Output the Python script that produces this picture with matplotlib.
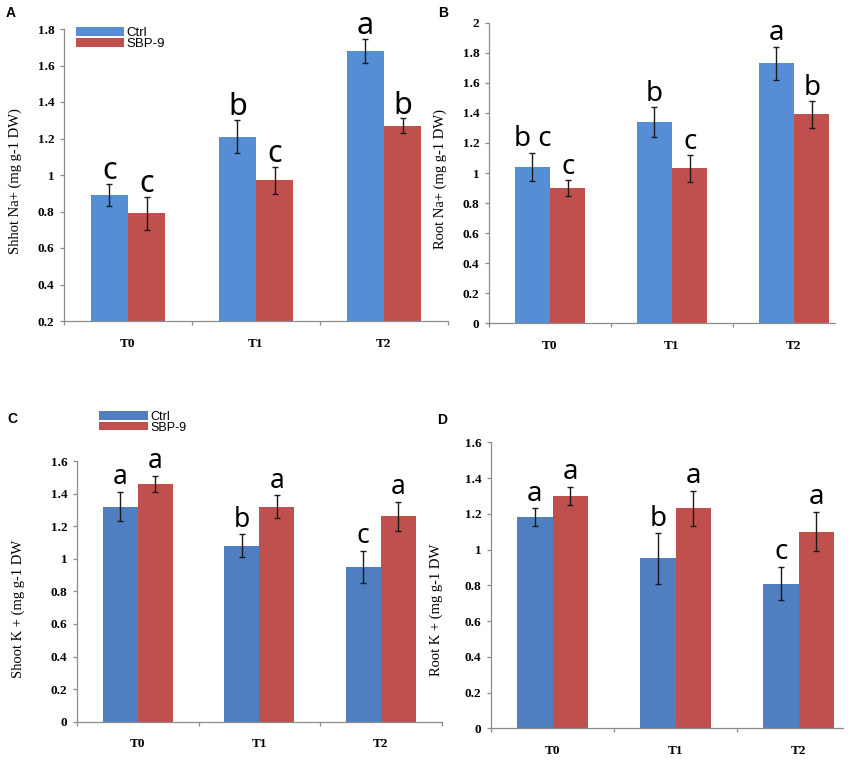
import matplotlib
matplotlib.use("Agg")
import matplotlib.pyplot as plt
from matplotlib.patches import Patch
from matplotlib.ticker import FuncFormatter, FixedLocator

# ---------------- data ----------------
categories = ["T0", "T1", "T2"]
series_names = ["Ctrl", "SBP-9"]

shoot_na_ctrl = [0.89, 1.21, 1.68]
shoot_na_ctrl_err = [0.06, 0.09, 0.065]
shoot_na_sbp = [0.79, 0.97, 1.27]
shoot_na_sbp_err = [0.09, 0.075, 0.04]
shoot_na_letters_ctrl = ["c", "b", "a"]
shoot_na_letters_sbp = ["c", "c", "b"]

root_na_ctrl = [1.04, 1.34, 1.73]
root_na_ctrl_err = [0.095, 0.10, 0.11]
root_na_sbp = [0.90, 1.03, 1.39]
root_na_sbp_err = [0.053, 0.09, 0.09]
root_na_letters_ctrl = ["b c", "b", "a"]
root_na_letters_sbp = ["c", "c", "b"]

shoot_k_ctrl = [1.32, 1.08, 0.95]
shoot_k_ctrl_err = [0.09, 0.07, 0.10]
shoot_k_sbp = [1.46, 1.32, 1.26]
shoot_k_sbp_err = [0.05, 0.07, 0.09]
shoot_k_letters_ctrl = ["a", "b", "c"]
shoot_k_letters_sbp = ["a", "a", "a"]

root_k_ctrl = [1.18, 0.95, 0.81]
root_k_ctrl_err = [0.05, 0.14, 0.095]
root_k_sbp = [1.30, 1.23, 1.10]
root_k_sbp_err = [0.05, 0.10, 0.11]
root_k_letters_ctrl = ["a", "b", "c"]
root_k_letters_sbp = ["a", "a", "a"]

# ---------------- figure ----------------
W, H = 856, 764
fig = plt.figure(figsize=(W / 100, H / 100), dpi=100)


def rect(l, t, r, b):
    return [l / W, 1 - b / H, (r - l) / W, (b - t) / H]


def fmt(v, pos):
    return f"{v:g}"


SERIF = ["Liberation Serif", "DejaVu Serif"]
NARROW = ["Noto Sans", "Liberation Sans", "DejaVu Sans"]
SANS = ["Liberation Sans", "DejaVu Sans"]
RED = "#C0504D"

panels = [
    dict(label="A", lab_xy=(6, 17), rect=(64, 29, 448, 321), xmax=2.5,
         ylim=(0.2, 1.8), yticks=[0.2, 0.4, 0.6, 0.8, 1.0, 1.2, 1.4, 1.6, 1.8],
         ylabel="Shhot Na+ (mg g-1 DW)", ylab_pos=(-0.109, 0.48),
         ctrl=shoot_na_ctrl, ctrl_err=shoot_na_ctrl_err, sbp=shoot_na_sbp,
         sbp_err=shoot_na_sbp_err, lc=shoot_na_letters_ctrl, ls=shoot_na_letters_sbp,
         blue="#558ED5", lsize=22, gap=3.5,
         legend=dict(anchor=(76, 27), fs=9.5, hl=48, hh=9)),
    dict(label="B", lab_xy=(438, 17), rect=(489, 22.7, 835, 323.3), xmax=-0.5 + 346 / 122,
         ylim=(0, 2.0), yticks=[0, 0.2, 0.4, 0.6, 0.8, 1.0, 1.2, 1.4, 1.6, 1.8, 2.0],
         ylabel="Root Na+ (mg g-1 DW)", ylab_pos=(-0.121, 0.48),
         ctrl=root_na_ctrl, ctrl_err=root_na_ctrl_err, sbp=root_na_sbp,
         sbp_err=root_na_sbp_err, lc=root_na_letters_ctrl, ls=root_na_letters_sbp,
         blue="#558ED5", lsize=20, gap=4.5, legend=None),
    dict(label="C", lab_xy=(7, 423), rect=(77, 461, 441.5, 721.7), xmax=2.5,
         ylim=(0, 1.6), yticks=[0, 0.2, 0.4, 0.6, 0.8, 1.0, 1.2, 1.4, 1.6],
         ylabel="Shoot K + (mg g-1 DW", ylab_pos=(-0.143, 0.432),
         ctrl=shoot_k_ctrl, ctrl_err=shoot_k_ctrl_err, sbp=shoot_k_sbp,
         sbp_err=shoot_k_sbp_err, lc=shoot_k_letters_ctrl, ls=shoot_k_letters_sbp,
         blue="#4F7FC0", lsize=19, gap=5.5,
         legend=dict(anchor=(99, 411), fs=9, hl=49, hh=8)),
    dict(label="D", lab_xy=(437, 424), rect=(491, 442.3, 843, 728.3), xmax=-0.5 + 352 / 123,
         ylim=(0, 1.6), yticks=[0, 0.2, 0.4, 0.6, 0.8, 1.0, 1.2, 1.4, 1.6],
         ylabel="Root K + (mg g-1 DW", ylab_pos=(-0.136, 0.414),
         ctrl=root_k_ctrl, ctrl_err=root_k_ctrl_err, sbp=root_k_sbp,
         sbp_err=root_k_sbp_err, lc=root_k_letters_ctrl, ls=root_k_letters_sbp,
         blue="#4F7FC0", lsize=20, gap=5.5, legend=None),
]

bw = 0.29
x = list(range(len(categories)))

for p in panels:
    ax = fig.add_axes(rect(*p["rect"]))
    xc = [i - bw / 2 for i in x]
    xs = [i + bw / 2 for i in x]
    ax.bar(xc, p["ctrl"], width=bw, color=p["blue"], edgecolor="none", zorder=2,
           label=series_names[0])
    ax.bar(xs, p["sbp"], width=bw, color=RED, edgecolor="none", zorder=2,
           label=series_names[1])
    ax.errorbar(xc, p["ctrl"], yerr=p["ctrl_err"], fmt="none", ecolor="#1a1a1a",
                elinewidth=1.0, capsize=2.2, capthick=1.0, zorder=3)
    ax.errorbar(xs, p["sbp"], yerr=p["sbp_err"], fmt="none", ecolor="#1a1a1a",
                elinewidth=1.0, capsize=2.2, capthick=1.0, zorder=3)
    for xi, v, e, t in zip(xc, p["ctrl"], p["ctrl_err"], p["lc"]):
        ax.annotate(t, (xi, v + e), xytext=(0, p["gap"]), textcoords="offset points",
                    ha="center", va="baseline", fontsize=p["lsize"], family=NARROW,
                    fontstretch="extra-condensed", color="black", zorder=4,
                    annotation_clip=False)
    for xi, v, e, t in zip(xs, p["sbp"], p["sbp_err"], p["ls"]):
        ax.annotate(t, (xi, v + e), xytext=(0, p["gap"]), textcoords="offset points",
                    ha="center", va="baseline", fontsize=p["lsize"], family=NARROW,
                    fontstretch="extra-condensed", color="black", zorder=4,
                    annotation_clip=False)

    ax.set_xlim(-0.5, p["xmax"])
    ax.set_ylim(*p["ylim"])
    ax.set_yticks(p["yticks"])
    ax.yaxis.set_major_formatter(FuncFormatter(fmt))
    ax.set_xticks(x)
    ax.set_xticklabels(categories)
    ax.xaxis.set_minor_locator(FixedLocator([-0.5, 0.5, 1.5, 2.5]))

    for s in ["top", "right"]:
        ax.spines[s].set_visible(False)
    for s in ["left", "bottom"]:
        ax.spines[s].set_color("#8c8c8c")
        ax.spines[s].set_linewidth(0.9)
    ax.tick_params(axis="y", direction="out", length=3, width=0.9, color="#8c8c8c", pad=4)
    ax.tick_params(axis="x", which="major", length=0, pad=12)
    ax.tick_params(axis="x", which="minor", direction="out", length=3, width=0.9,
                   color="#8c8c8c")
    for lab in ax.get_yticklabels() + ax.get_xticklabels():
        lab.set_family(SERIF)
        lab.set_fontweight("bold")
        lab.set_fontsize(9.5)
    ax.set_ylabel(p["ylabel"], family=SERIF, fontsize=10.5)
    ax.yaxis.set_label_coords(*p["ylab_pos"])
    ax.patch.set_alpha(0)

    fig.text(p["lab_xy"][0] / W, 1 - p["lab_xy"][1] / H, p["label"], family=SANS,
             fontweight="bold", fontsize=10, ha="left", va="baseline")

    lg = p["legend"]
    if lg:
        fs_px = lg["fs"] * 100 / 72
        handles = [Patch(facecolor=p["blue"], edgecolor="none"),
                   Patch(facecolor=RED, edgecolor="none")]
        ax.legend(handles, series_names, loc="upper left",
                  bbox_to_anchor=(lg["anchor"][0] / W, 1 - lg["anchor"][1] / H),
                  bbox_transform=fig.transFigure, frameon=False, borderpad=0,
                  borderaxespad=0, handlelength=lg["hl"] / fs_px,
                  handleheight=lg["hh"] / fs_px, handletextpad=0.2,
                  labelspacing=-0.1, prop=dict(family=SANS, size=lg["fs"]))

fig.savefig("out.png", dpi=100)
